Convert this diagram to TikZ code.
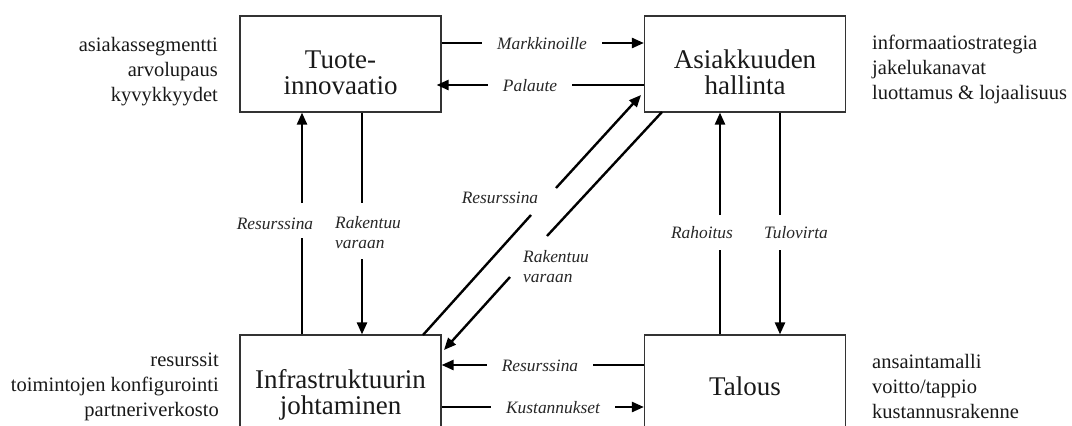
\documentclass[tikz,border=0pt]{standalone}
\usepackage{fontspec}
\setmainfont{Liberation Serif}
\usetikzlibrary{arrows.meta}
\begin{document}
\begin{tikzpicture}[x=1pt,y=-1pt,
  box/.style={draw=black!80,line width=1.2pt,minimum width=201pt,minimum height=96pt,inner sep=0pt},
  boxtext/.style={align=center,font=\fontsize{27}{26}\selectfont,anchor=base,inner sep=0pt,text=black!90},
  sidel/.style={font=\fontsize{20.5}{25}\selectfont,inner sep=0pt,anchor=base east,align=right,text=black!90},
  sider/.style={font=\fontsize{20.5}{25}\selectfont,inner sep=0pt,anchor=base west,align=left,text=black!90},
  hlab/.style={font=\fontsize{17.4}{20}\selectfont\itshape,inner xsep=15pt,inner ysep=0pt,
               text height=12pt,text depth=0pt,text=black!85},
  vlab/.style={font=\fontsize{17.4}{20}\selectfont\itshape,inner sep=0pt,anchor=base,text=black!85},
  vlabl/.style={vlab,anchor=base west,align=left},
  wire/.style={line width=2.4pt},
  flow/.style={wire,-{Triangle[length=12pt,width=10pt]}}
]
\useasboundingbox (0,0) rectangle (1072,426);

% the four building blocks (multi-line text is placed by its last baseline)
\node[box] (tuote)  at (340.5,64)  {};
\node[box] (asiak)  at (745,64)    {};
\node[box] (infra)  at (340.5,383) {};
\node[box] (talous) at (745,383)   {};

\node[boxtext] (tuoteT)  at (340.5,94) {Tuote-\\innovaatio};
\node[boxtext] (asiakT)  at (745,94)   {Asiakkuuden\\hallinta};
\node[boxtext] (infraT)  at (340.5,414) {Infrastruktuurin\\johtaminen};
\node[boxtext] (talousT) at (745,395)  {Talous};

% descriptions beside the blocks
\node[sidel] (tl) at (218,101) {asiakassegmentti\\arvolupaus\\kyvykkyydet};
\node[sider] (tr) at (872,99)  {informaatiostrategia\\jakelukanavat\\luottamus \& lojaalisuus};
\node[sidel] (bl) at (219,416) {resurssit\\toimintojen konfigurointi\\partneriverkosto};
\node[sider] (br) at (872,418) {ansaintamalli\\voitto/tappio\\kustannusrakenne};

% horizontal flows
\node[hlab] (mk) at (542,43) {Markkinoille};
\draw[wire] (tuote.east |- mk) -- (mk.west);
\draw[flow] (mk.east) -- (asiak.west |- mk);

\node[hlab] (pal) at (530,85) {Palaute};
\draw[wire] (asiak.west |- pal) -- (pal.east);
\draw[flow,shorten >=-5pt] (pal.west) -- (tuote.east |- pal);

\node[hlab] (resb) at (540,365) {Resurssina};
\draw[wire] (talous.west |- resb) -- (resb.east);
\draw[flow] (resb.west) -- (infra.east |- resb);

\node[hlab] (kus) at (553,407) {Kustannukset};
\draw[wire] (infra.east |- kus) -- (kus.west);
\draw[flow] (kus.east) -- (talous.west |- kus);

% vertical flows on the left
\node[vlab] (resl) at (275,229) {Resurssina};
\coordinate (resla) at (302,238);
\coordinate (reslb) at (302,203);
\draw[wire] (infra.north -| resla) -- (resla);
\draw[flow] (reslb) -- (tuote.south -| reslb);

\node[vlabl] (rakl) at (335,248) {Rakentuu\\varaan};
\coordinate (rakla) at (362,203);
\coordinate (raklb) at (362,259);
\draw[wire] (tuote.south -| rakla) -- (rakla);
\draw[flow] (raklb) -- (infra.north -| raklb);

% vertical flows on the right
\node[vlab] (rah) at (702,238) {Rahoitus};
\coordinate (raha) at (720,250);
\coordinate (rahb) at (720,215);
\draw[wire] (talous.north -| raha) -- (raha);
\draw[flow] (rahb) -- (asiak.south -| rahb);

\node[vlab] (tulo) at (796,238) {Tulovirta};
\coordinate (tuloa) at (780,215);
\coordinate (tulob) at (780,250);
\draw[wire] (asiak.south -| tuloa) -- (tuloa);
\draw[flow] (tulob) -- (talous.north -| tulob);

% diagonal flows
\node[vlab] (resd) at (500,203) {Resurssina};
\coordinate (resds) at (423,335);
\coordinate (resda) at (531,215);
\coordinate (resdb) at (556,188);
\coordinate (resde) at (641,95);
\draw[wire] (resds) -- (resda);
\draw[flow] (resdb) -- (resde);

\node[vlabl] (rakd) at (523,282) {Rakentuu\\varaan};
\coordinate (rakds) at (662,112);
\coordinate (rakda) at (547,236);
\coordinate (rakdb) at (510,277);
\coordinate (rakde) at (444,350);
\draw[wire] (rakds) -- (rakda);
\draw[flow] (rakdb) -- (rakde);
\end{tikzpicture}
\end{document}
